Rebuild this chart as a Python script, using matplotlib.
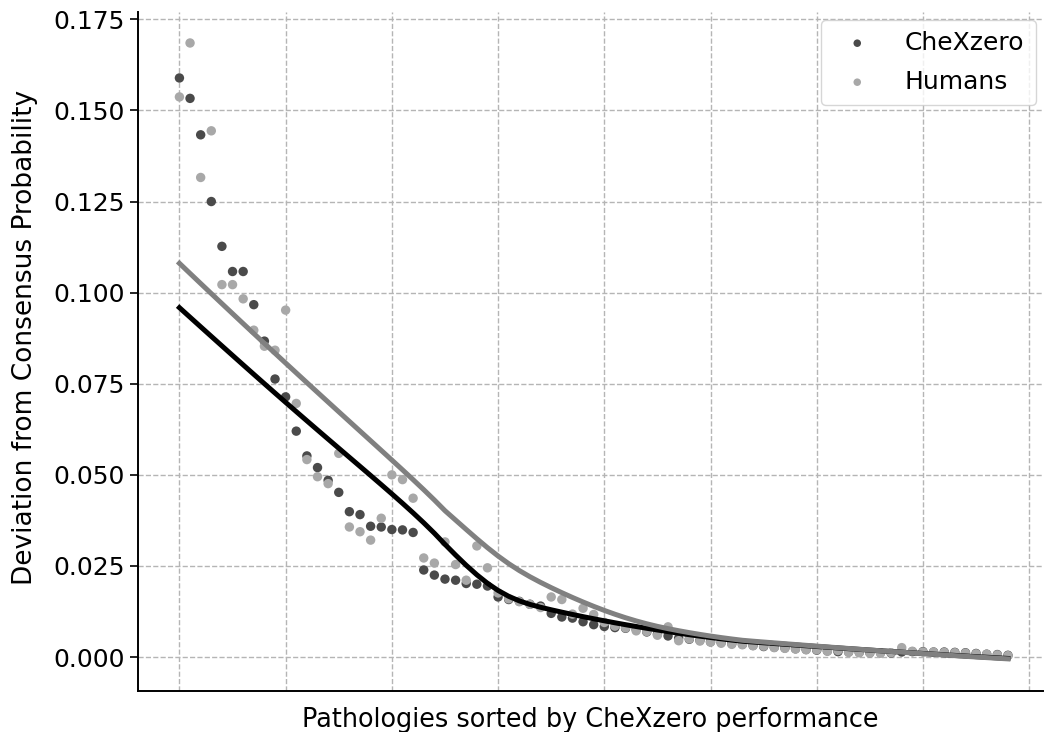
import numpy as np
import matplotlib
matplotlib.use("Agg")
import matplotlib.pyplot as plt

# ---- data ----
chexzero = [
    0.1589, 0.1533, 0.1433, 0.1250, 0.1127, 0.1058, 0.1058, 0.0967, 0.0867, 0.0763,
    0.0714, 0.0620, 0.0552, 0.0520, 0.0485, 0.0452, 0.0399, 0.0391, 0.0359, 0.0357,
    0.0350, 0.0349, 0.0342, 0.0239, 0.0225, 0.0214, 0.0211, 0.0202, 0.0200, 0.0195,
    0.0165, 0.0158, 0.0153, 0.0145, 0.0140, 0.0120, 0.0110, 0.0107, 0.0097, 0.0089,
    0.0084, 0.0081, 0.0079, 0.0076, 0.0069, 0.0063, 0.0058, 0.0052, 0.0049, 0.0046,
    0.0042, 0.0040, 0.0037, 0.0035, 0.0032, 0.0029, 0.0027, 0.0025, 0.0023, 0.0021,
    0.0019, 0.0017, 0.0015, 0.0014, 0.0013, 0.0012, 0.0012, 0.0011, 0.0014, 0.0015,
    0.0015, 0.0014, 0.0014, 0.0013, 0.0012, 0.0010, 0.0008, 0.0007, 0.0005,
]
humans = [
    0.1537, 0.1685, 0.1316, 0.1444, 0.1022, 0.1022, 0.0983, 0.0897, 0.0853, 0.0842,
    0.0952, 0.0696, 0.0542, 0.0495, 0.0476, 0.0559, 0.0357, 0.0344, 0.0321, 0.0381,
    0.0500, 0.0487, 0.0436, 0.0272, 0.0258, 0.0316, 0.0254, 0.0211, 0.0305, 0.0245,
    0.0176, 0.0160, 0.0152, 0.0145, 0.0136, 0.0165, 0.0158, 0.0118, 0.0134, 0.0117,
    0.0095, 0.0085, 0.0080, 0.0072, 0.0070, 0.0060, 0.0083, 0.0045, 0.0050, 0.0044,
    0.0041, 0.0038, 0.0035, 0.0034, 0.0031, 0.0030, 0.0026, 0.0024, 0.0022, 0.0020,
    0.0020, 0.0016, 0.0018, 0.0013, 0.0012, 0.0011, 0.0011, 0.0012, 0.0026, 0.0016,
    0.0014, 0.0014, 0.0013, 0.0012, 0.0011, 0.0009, 0.0008, 0.0006, 0.0004,
]
series_labels = ["CheXzero", "Humans"]
yticks = [0.000, 0.025, 0.050, 0.075, 0.100, 0.125, 0.150, 0.175]
xgrid = list(range(0, 81, 10))
xlabel = "Pathologies sorted by CheXzero performance"
ylabel = "Deviation from Consensus Probability"


def lowess(x, y, frac=2.0 / 3.0, it=3):
    """Robust LOWESS following the statsmodels conventions (k nearest, tricube, bisquare)."""
    x = np.asarray(x, float)
    y = np.asarray(y, float)
    n = len(x)
    k = int(frac * n + 1e-10)
    windows = []
    left, right = 0, k
    for i in range(n):
        while right < n and x[i] - x[left] > x[right] - x[i]:
            left += 1
            right += 1
        radius = max(x[i] - x[left], x[right - 1] - x[i])
        windows.append((left, right, radius))
    robust = np.ones(n)
    yest = np.zeros(n)
    for _ in range(it + 1):
        for i in range(n):
            l, r, rad = windows[i]
            xs = x[l:r]
            ys = y[l:r]
            d = np.abs(xs - x[i]) / rad
            w = np.where(d < 1.0, (1 - d ** 3) ** 3, 0.0) * robust[l:r]
            sw = w.sum()
            w = w / sw
            xm = (w * xs).sum()
            ym = (w * ys).sum()
            sxx = (w * (xs - xm) ** 2).sum()
            sxy = (w * (xs - xm) * (ys - ym)).sum()
            b = sxy / sxx if sxx > 0 else 0.0
            yest[i] = ym + b * (x[i] - xm)
        res = y - yest
        s = np.median(np.abs(res))
        if s == 0:
            break
        u = np.clip(np.abs(res) / (6.0 * s), 0, 1)
        robust = (1 - u ** 2) ** 2
    return yest


x = np.arange(len(chexzero))

plt.rcParams["font.family"] = ["DejaVu Sans"]
fig = plt.figure(figsize=(10.44, 7.32), dpi=100)
ax = fig.add_axes([138 / 1044, 41 / 732, (1043 - 138) / 1044, 679 / 732])

ax.scatter(x, chexzero, s=46, color="#4a4a4a", edgecolors="none", label=series_labels[0], zorder=3)
ax.scatter(x, humans, s=46, color="#a8a8a8", edgecolors="none", label=series_labels[1], zorder=3)
ax.plot(x, lowess(x, chexzero), color="black", lw=3.6, zorder=4)
ax.plot(x, lowess(x, humans), color="#808080", lw=3.6, zorder=5)

ax.set_xlim(-3.9, 81.3)
ax.set_ylim(-0.0093, 0.177)
ax.set_xticks(xgrid)
ax.set_xticklabels([])
ax.tick_params(axis="x", length=0)
ax.set_yticks(yticks)
ax.set_yticklabels([f"{v:.3f}" for v in yticks])
ax.tick_params(axis="y", labelsize=18, length=6, width=1.2)
ax.grid(True, linestyle="--", color="#b5b5b5", lw=1.0, zorder=0)
ax.set_axisbelow(True)
for sp in ["top", "right"]:
    ax.spines[sp].set_visible(False)
for sp in ["left", "bottom"]:
    ax.spines[sp].set_linewidth(1.4)

ax.set_xlabel(xlabel, fontsize=18.4, labelpad=8)
ax.set_ylabel(ylabel, fontsize=19, labelpad=12)
ax.yaxis.set_label_coords(-0.111, 0.52)

ax.legend(loc="upper right", fontsize=18, markerscale=0.8, borderpad=0.45,
          labelspacing=0.6, handletextpad=0.9, borderaxespad=0.3, frameon=True)

fig.savefig("out.png", dpi=100)
